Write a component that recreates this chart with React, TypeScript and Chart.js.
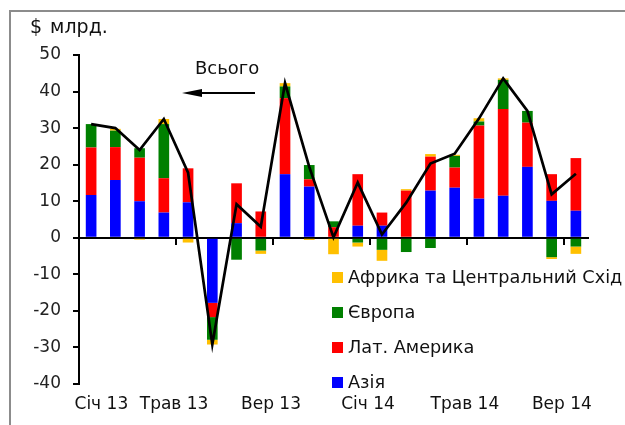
import React, { useEffect, useRef } from "react";
import { Chart, registerables } from "chart.js";

Chart.register(...registerables);

// ---- data ----
const categories = [
  "Січ 13", "Лют 13", "Бер 13", "Кві 13", "Тра 13", "Чер 13", "Лип 13", "Сер 13",
  "Вер 13", "Жов 13", "Лис 13", "Гру 13", "Січ 14", "Лют 14", "Бер 14", "Кві 14",
  "Тра 14", "Чер 14", "Лип 14", "Сер 14", "Вер 14",
];
const tickLabels = [
  "", "Січ 13", "", "", "Трав 13", "", "", "", "Вер 13", "", "", "",
  "Січ 14", "", "", "", "Трав 14", "", "", "", "Вер 14",
];
const asia = [11.7, 15.8, 10.0, 6.9, 9.7, -17.8, 4.0, 0, 17.4, 14.0, 0, 3.3, 3.3, 0, 12.9, 13.7, 10.7, 11.5, 19.4, 10.1, 7.4];
const latAmerica = [13.0, 9.0, 11.9, 9.4, 9.3, -3.9, 10.9, 7.2, 20.8, 2.0, 2.9, 14.1, 3.6, 12.9, 9.3, 5.5, 20.0, 23.7, 12.1, 7.3, 14.4];
const europe = [6.4, 4.5, 2.6, 14.8, 0, -6.2, -6.0, -3.5, 3.2, 3.9, 1.6, -1.3, -3.3, -3.9, -2.8, 3.2, 1.1, 8.0, 3.2, -5.3, -2.4];
const africaME = [0, 0.5, -0.5, 1.4, -1.3, -1.3, 0, -0.9, 0.9, -0.6, -4.5, -1.1, -3.0, 0.4, 0.7, 0.3, 0.9, 0.4, 0, -0.5, -2.0];
const total = [31.1, 30.0, 24.0, 32.5, 17.8, -29.2, 9.2, 3.0, 42.3, 19.4, 0.1, 15.1, 0.9, 9.6, 20.3, 23.0, 32.6, 43.6, 34.7, 11.9, 17.5];

const yMin = -40;
const yMax = 50;
const yStep = 10;

const seriesNames = {
  asia: "Азія",
  latAmerica: "Лат. Америка",
  europe: "Європа",
  africaME: "Африка та Центральний Схід",
  total: "Всього",
};
const colors = {
  asia: "#0000FF",
  latAmerica: "#FF0000",
  europe: "#008000",
  africaME: "#FFC000",
  total: "#000000",
};

const FONT = "'DejaVu Sans', Verdana, sans-serif";

export default function App() {
  const canvasRef = useRef<HTMLCanvasElement | null>(null);

  useEffect(() => {
    const canvas = canvasRef.current;
    if (!canvas) return;
    const chart = new Chart(canvas, {
      type: "bar",
      data: {
        labels: categories,
        datasets: [
          {
            type: "line",
            label: seriesNames.total,
            data: total,
            borderColor: colors.total,
            borderWidth: 2.7,
            pointRadius: 0,
            tension: 0,
            fill: false,
            order: 0,
            stack: "total",
          } as any,
          { label: seriesNames.asia, data: asia, backgroundColor: colors.asia, order: 1, stack: "regions" },
          { label: seriesNames.latAmerica, data: latAmerica, backgroundColor: colors.latAmerica, order: 1, stack: "regions" },
          { label: seriesNames.europe, data: europe, backgroundColor: colors.europe, order: 1, stack: "regions" },
          { label: seriesNames.africaME, data: africaME, backgroundColor: colors.africaME, order: 1, stack: "regions" },
        ],
      },
      options: {
        responsive: false,
        animation: false,
        devicePixelRatio: 1,
        layout: { padding: { left: 0, right: 37, top: 55, bottom: 0 } },
        plugins: { legend: { display: false }, tooltip: { enabled: false }, title: { display: false } },
        datasets: { bar: { barPercentage: 0.44, categoryPercentage: 1 } } as any,
        scales: {
          x: {
            type: "category",
            position: "bottom",
            stacked: true,
            offset: true,
            grid: { display: false, drawTicks: false, offset: true },
            border: { display: false },
            ticks: {
              autoSkip: false,
              maxRotation: 0,
              minRotation: 0,
              labelOffset: -14,
              padding: 10,
              color: "#111",
              font: { family: FONT, size: 17 },
              callback: (_v: any, i: number) => tickLabels[i],
            },
            afterFit: (s: any) => {
              s.height = 41;
            },
          },
          xz: {
            type: "category",
            axis: "x",
            position: { y: 0 },
            offset: true,
            grid: {
              offset: true,
              drawOnChartArea: false,
              drawTicks: true,
              tickLength: 6,
              lineWidth: 2,
              color: (c: any) => (c.index > 0 && c.index % 4 === 0 ? "#000" : "rgba(0,0,0,0)"),
            },
            border: { display: true, color: "#000", width: 2 },
            ticks: { display: false },
          } as any,
          y: {
            stacked: true,
            min: yMin,
            max: yMax,
            ticks: {
              stepSize: yStep,
              padding: 12,
              color: "#222",
              font: { family: FONT, size: 17 },
            },
            grid: { drawOnChartArea: false, drawTicks: true, tickLength: 6, color: "#000", lineWidth: 2 },
            border: { display: true, color: "#000", width: 2 },
            afterFit: (s: any) => {
              s.width = 79;
            },
          },
        },
      },
    });
    return () => chart.destroy();
  }, []);

  const legendItems = [
    { name: seriesNames.africaME, color: colors.africaME },
    { name: seriesNames.europe, color: colors.europe },
    { name: seriesNames.latAmerica, color: colors.latAmerica },
    { name: seriesNames.asia, color: colors.asia },
  ];

  return (
    <div style={{ position: "fixed", left: 0, top: 0, width: 625, height: 425, background: "#fff", overflow: "hidden", fontFamily: FONT }}>
      <div style={{ position: "absolute", left: 9, top: 10, width: 616, height: 415, borderTop: "2px solid #8c8c8c", borderLeft: "2px solid #8c8c8c" }} />
      <canvas ref={canvasRef} width={625} height={425} style={{ position: "absolute", left: 0, top: 0, width: 625, height: 425 }} />
      <div style={{ position: "absolute", left: 30, top: 16, fontSize: 19, lineHeight: "20px", color: "#111", whiteSpace: "nowrap" }}>
        <span>$</span>
        <span style={{ marginLeft: 8 }}>млрд.</span>
      </div>
      <div style={{ position: "absolute", left: 195, top: 58, fontSize: 18, lineHeight: "20px", color: "#111" }}>Всього</div>
      <div style={{ position: "absolute", left: 198, top: 92, width: 57, height: 2, background: "#000" }} />
      <div style={{ position: "absolute", left: 182, top: 88.5, width: 0, height: 0, borderTop: "4.5px solid transparent", borderBottom: "4.5px solid transparent", borderRight: "20px solid #000" }} />
      {legendItems.map((it, i) => (
        <div key={it.name} style={{ position: "absolute", left: 332, top: 267 + i * 35, height: 20, display: "flex", alignItems: "center", whiteSpace: "nowrap" }}>
          <span style={{ display: "inline-block", width: 11, height: 11, background: it.color }} />
          <span style={{ marginLeft: 5, fontSize: 17.7, color: "#111" }}>{it.name}</span>
        </div>
      ))}
    </div>
  );
}
